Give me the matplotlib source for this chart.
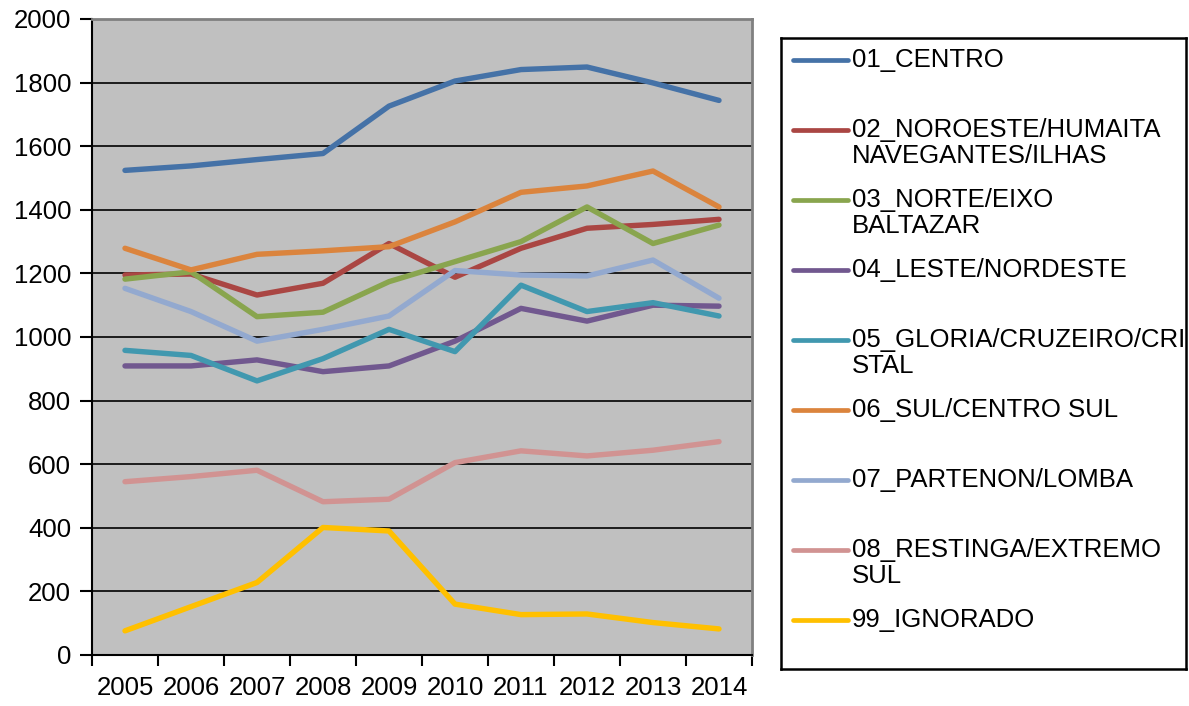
import matplotlib
matplotlib.use('Agg')
import matplotlib.pyplot as plt
from matplotlib.lines import Line2D

plt.rcParams['font.family'] = ['Liberation Sans', 'DejaVu Sans']

# data
years = ["2005", "2006", "2007", "2008", "2009", "2010", "2011", "2012", "2013", "2014"]

centro = [1524, 1538, 1558, 1577, 1726, 1805, 1841, 1849, 1799, 1744]
noroeste = [1195, 1198, 1132, 1169, 1294, 1188, 1279, 1342, 1354, 1370]
norte = [1182, 1205, 1064, 1078, 1174, 1237, 1300, 1409, 1294, 1352]
leste = [909, 909, 928, 891, 909, 987, 1090, 1050, 1100, 1097]
gloria = [958, 942, 862, 932, 1024, 954, 1163, 1080, 1108, 1066]
sul = [1279, 1211, 1260, 1271, 1284, 1362, 1455, 1475, 1522, 1409]
partenon = [1153, 1080, 987, 1024, 1066, 1209, 1195, 1192, 1242, 1122]
restinga = [545, 561, 581, 482, 490, 605, 642, 626, 644, 671]
ignorado = [76, 152, 228, 401, 390, 160, 127, 129, 102, 82]

labels = [
	["01_CENTRO"],
	["02_NOROESTE/HUMAITA", "NAVEGANTES/ILHAS"],
	["03_NORTE/EIXO", "BALTAZAR"],
	["04_LESTE/NORDESTE"],
	["05_GLORIA/CRUZEIRO/CRI", "STAL"],
	["06_SUL/CENTRO SUL"],
	["07_PARTENON/LOMBA"],
	["08_RESTINGA/EXTREMO", "SUL"],
	["99_IGNORADO"],
]
series = [centro, noroeste, norte, leste, gloria, sul, partenon, restinga, ignorado]
colors = ["#4572A7", "#AA4643", "#89A54E", "#71588F", "#4198AF",
	"#DB843D", "#93A9CF", "#D19392", "#FFC000"]

W, H = 1189, 706
fig = plt.figure(figsize=(W / 100.0, H / 100.0), dpi=100)
fig.patch.set_facecolor('white')

# plot area in pixels: left 92, right 752, top 19, bottom 655
ax = fig.add_axes([92.0 / W, 1 - 655.0 / H, (752.0 - 92.0) / W, (655.0 - 19.0) / H])
ax.set_facecolor('#C0C0C0')

x = list(range(len(years)))
for vals, col in zip(series, colors):
	ax.plot(x, vals, color=col, linewidth=3.9, solid_capstyle='round', solid_joinstyle='round')

ax.set_xlim(-0.5, len(years) - 0.5)
ax.set_ylim(0, 2000)
ax.set_yticks(range(0, 2001, 200))
ax.yaxis.grid(True, color='black', linewidth=1.2)
ax.set_axisbelow(True)

# category axis: tick marks on the boundaries, labels in the middle
ax.set_xticks([i - 0.5 for i in range(len(years) + 1)])
ax.set_xticklabels([])
ax.set_xticks(x, minor=True)
ax.set_xticklabels(years, minor=True)
ax.tick_params(axis='x', which='major', length=8, width=1.5, color='black')
ax.tick_params(axis='x', which='minor', length=0, pad=15, labelsize=18.5)
ax.tick_params(axis='y', length=9, width=1.5, pad=6, labelsize=18.5)
for t in ax.get_yticklabels():
	t.set_verticalalignment('center_baseline')

for side in ['top', 'right']:
	ax.spines[side].set_color('#808080')
	ax.spines[side].set_linewidth(2)
for side in ['left', 'bottom']:
	ax.spines[side].set_color('black')
	ax.spines[side].set_linewidth(1.5)

# legend box, drawn by hand in pixel units like the Excel one
lx0, lx1, ly0, ly1 = 781.0, 1186.0, 38.0, 669.0
lax = fig.add_axes([lx0 / W, 1 - ly1 / H, (lx1 - lx0) / W, (ly1 - ly0) / H])
lax.set_xlim(lx0, lx1)
lax.set_ylim(ly1, ly0)
lax.set_xticks([])
lax.set_yticks([])
for sp in lax.spines.values():
	sp.set_linewidth(1.8)
	sp.set_color('black')

for i, (lab, col) in enumerate(zip(labels, colors)):
	yc = 60 + 70 * i
	lax.add_line(Line2D([793, 848], [yc, yc], color=col, linewidth=3.4, solid_capstyle='round'))
	for j, txt in enumerate(lab):
		lax.text(852, yc + 26 * j, txt, fontsize=18.5, va='center', ha='left', color='black')

fig.savefig('out.png', dpi=100)
